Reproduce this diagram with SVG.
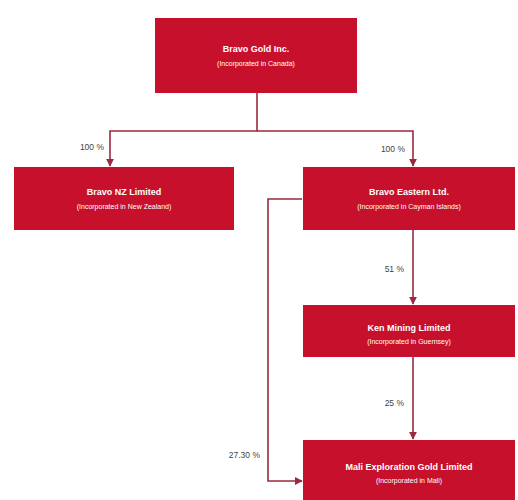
<svg xmlns="http://www.w3.org/2000/svg" width="518" height="500" viewBox="0 0 518 500">
<style>
.box{fill:#C6102C}
.t1{font-family:"Liberation Sans",Arial,sans-serif;font-size:9px;font-weight:bold;fill:#fff;text-anchor:middle}
.t2{font-family:"Liberation Sans",Arial,sans-serif;font-size:7px;fill:#fff;text-anchor:middle}
.pct{font-family:"Liberation Sans",Arial,sans-serif;font-size:8.5px;fill:#444;text-anchor:end}
.ln{fill:none;stroke:#9A2A40;stroke-width:1.6}
</style>
<defs>
<marker id="ah" viewBox="0 0 10 10" refX="9" refY="5" markerWidth="5" markerHeight="5" orient="auto"><path d="M0,0L10,5L0,10z" fill="#9A2A40"/></marker>
</defs>
<rect width="518" height="500" fill="#fff"/>
<g id="connectors">
<path class="ln" d="M257,93V131H110V166" marker-end="url(#ah)"/>
<path class="ln" d="M257,131H413V166" marker-end="url(#ah)"/>
<path class="ln" d="M413,230V304" marker-end="url(#ah)"/>
<path class="ln" d="M413,357V439" marker-end="url(#ah)"/>
<path class="ln" d="M302,199H268V481H302" marker-end="url(#ah)"/>
<text class="pct" x="104" y="150">100 %</text>
<text class="pct" x="405" y="152">100 %</text>
<text class="pct" x="404" y="272">51 %</text>
<text class="pct" x="404" y="406">25 %</text>
<text class="pct" x="260" y="458">27.30 %</text>
</g>
<g id="n1"><rect class="box" x="155" y="18" width="202" height="75"/><text class="t1" x="256" y="52">Bravo Gold Inc.</text><text class="t2" x="256" y="66">(Incorporated in Canada)</text></g>
<g id="n2"><rect class="box" x="14" y="167" width="220" height="63"/><text class="t1" x="124" y="195">Bravo NZ Limited</text><text class="t2" x="124" y="209">(Incorporated in New Zealand)</text></g>
<g id="n3"><rect class="box" x="303" y="167" width="212" height="63"/><text class="t1" x="409" y="195">Bravo Eastern Ltd.</text><text class="t2" x="409" y="209">(Incorporated in Cayman Islands)</text></g>
<g id="n4"><rect class="box" x="303" y="305" width="212" height="52"/><text class="t1" x="409" y="331">Ken Mining Limited</text><text class="t2" x="409" y="344">(Incorporated in Guernsey)</text></g>
<g id="n5"><rect class="box" x="303" y="440" width="212" height="60"/><text class="t1" x="409" y="470">Mali Exploration Gold Limited</text><text class="t2" x="409" y="483">(Incorporated in Mali)</text></g>
</svg>
